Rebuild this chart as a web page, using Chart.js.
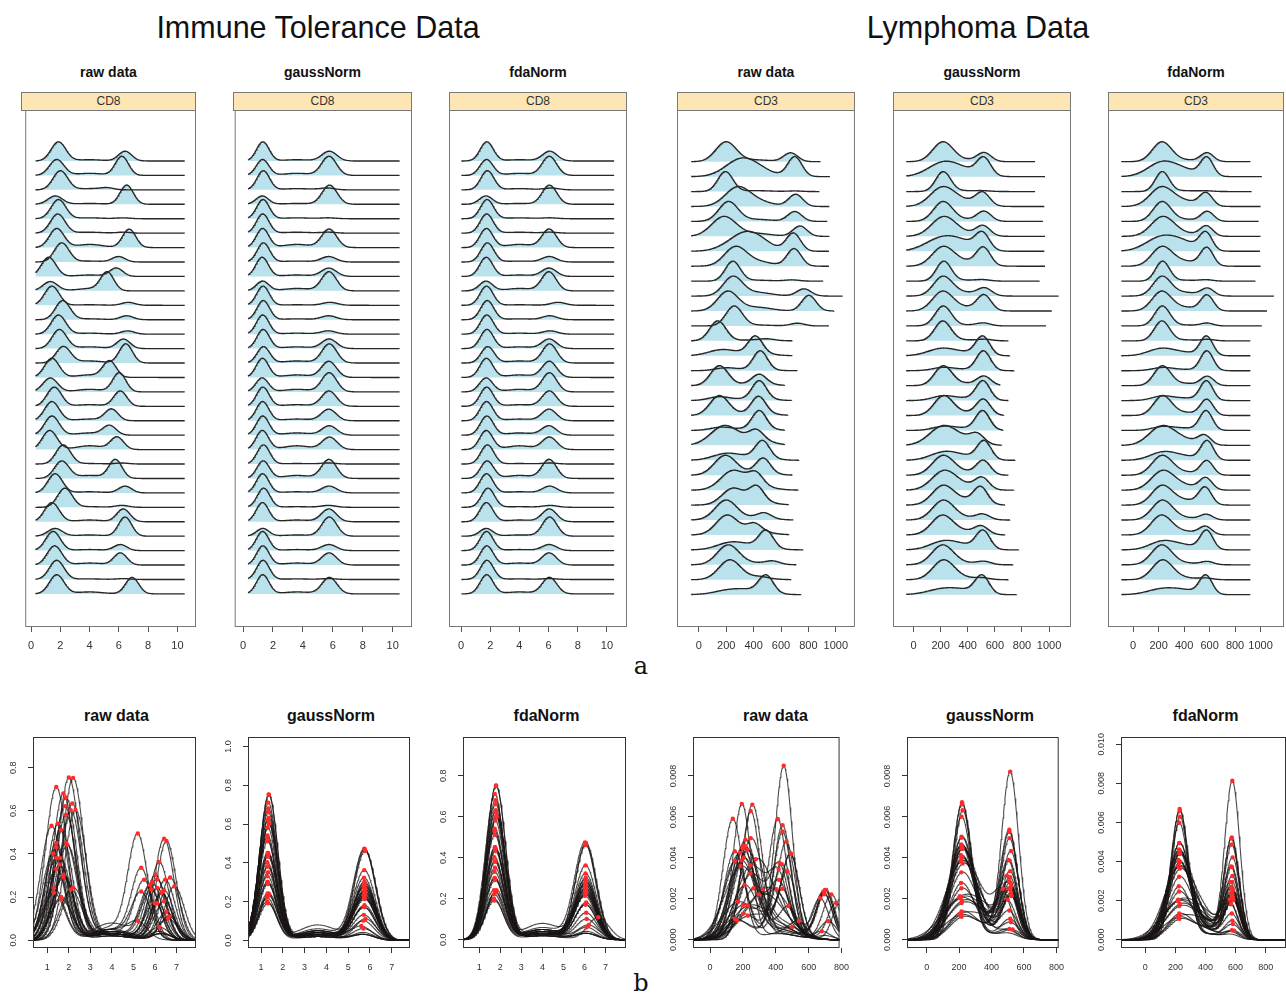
<!DOCTYPE html>
<html>
<head>
<meta charset="utf-8">
<script src="https://cdn.jsdelivr.net/npm/chart.js@4.4.1/dist/chart.umd.min.js"></script>
<style>
  body { margin: 0; background: #fff; }
  #page { position: relative; width: 1286px; height: 1001px; overflow: hidden; font-family: 'Liberation Sans', Arial, sans-serif; color: #111; }
  .txt { position: absolute; white-space: nowrap; transform: translate(-50%, -50%); }
  .head { font-size: 30.5px; }
  .ptitle { font-size: 14px; font-weight: bold; }
  .btitle { font-size: 16px; font-weight: bold; }
  .letter { font-family: 'DejaVu Serif', 'Liberation Serif', serif; font-size: 24px; }
  .strip { position: absolute; top: 92px; height: 19px; box-sizing: border-box; border: 1px solid #7a7a7a; background: #fde5b4; font-size: 12px; line-height: 17px; text-align: center; color: #333; }
  canvas { position: absolute; }
</style>
</head>
<body>
<div id="page">
  <div class="txt head" style="left:318px; top:27px">Immune Tolerance Data</div>
  <div class="txt head" style="left:978px; top:27px">Lymphoma Data</div>
  <div class="txt letter" style="left:641px; top:666px">a</div>
  <div class="txt letter" style="left:641px; top:983px">b</div>
</div>
<script>
// ---- Immune tolerance data (CD8), one entry per sample, top row first ----
const immuneRawLow   = [1.87, 1.75, 2.00, 1.65, 1.87, 1.82, 1.75, 2.09, 1.20, 1.31, 1.42, 2.16, 1.87, 1.93, 2.20, 1.42, 1.31, 1.58, 1.42, 1.42, 1.27, 2.20, 2.09, 1.64, 2.31, 1.42, 1.64, 1.50, 1.60, 1.75, 1.75];
const immuneRawHigh  = [6.42, 6.20, 5.20, 6.53, 6.30, 6.30, 6.70, 5.98, 5.82, 5.20, 6.64, 6.53, 6.60, 6.31, 6.47, 5.36, 6.02, 6.09, 5.49, 5.36, 5.87, 6.20, 5.76, 6.42, 6.20, 6.30, 6.42, 6.10, 6.10, 6.30, 6.90];
const immuneGaussLow = [1.32, 1.30, 1.35, 1.28, 1.33, 1.31, 1.30, 1.36, 1.27, 1.30, 1.33, 1.35, 1.31, 1.34, 1.36, 1.29, 1.27, 1.32, 1.30, 1.31, 1.28, 1.36, 1.34, 1.30, 1.37, 1.29, 1.31, 1.30, 1.32, 1.33, 1.31];
const immuneGaussHigh = [5.76, 5.74, 5.60, 5.78, 5.70, 5.70, 5.75, 5.72, 5.73, 5.74, 5.80, 5.72, 5.70, 5.75, 5.76, 5.73, 5.75, 5.74, 5.72, 5.76, 5.78, 5.70, 5.74, 5.75, 5.70, 5.73, 5.76, 5.74, 5.75, 5.70, 5.77];
const immuneFdaLow   = [1.76, 1.74, 1.80, 1.70, 1.78, 1.75, 1.73, 1.80, 1.72, 1.70, 1.74, 1.79, 1.76, 1.77, 1.82, 1.73, 1.71, 1.75, 1.74, 1.76, 1.72, 1.80, 1.78, 1.74, 1.84, 1.73, 1.72, 1.74, 1.76, 1.77, 1.75];
const immuneFdaHigh  = [6.08, 6.05, 6.20, 6.06, 6.10, 6.10, 6.04, 6.05, 6.03, 6.02, 6.65, 6.08, 6.10, 6.04, 6.07, 6.05, 6.06, 6.05, 6.03, 6.02, 6.06, 6.10, 6.04, 6.08, 6.10, 6.05, 6.07, 6.05, 6.04, 6.10, 6.06];
const immuneLowDensity  = [0.45, 0.30, 0.75, 0.20, 0.66, 0.62, 0.30, 0.60, 0.53, 0.24, 0.71, 0.63, 0.58, 0.44, 0.24, 0.38, 0.22, 0.35, 0.45, 0.43, 0.40, 0.75, 0.23, 0.51, 0.60, 0.33, 0.19, 0.54, 0.38, 0.68, 0.29];
const immuneHighDensity = [0.23, 0.36, 0.07, 0.46, 0.03, 0.03, 0.29, 0.17, 0.23, 0.47, 0.11, 0.13, 0.10, 0.22, 0.28, 0.32, 0.30, 0.28, 0.27, 0.21, 0.26, 0.04, 0.25, 0.18, 0.06, 0.22, 0.47, 0.17, 0.24, 0.03, 0.25];
const immuneMidDensity  = [0.03, 0.04, 0.05, 0.02, 0.03, 0.03, 0.05, 0.03, 0.04, 0.06, 0.02, 0.03, 0.03, 0.04, 0.03, 0.05, 0.04, 0.03, 0.04, 0.05, 0.08, 0.02, 0.04, 0.03, 0.02, 0.03, 0.03, 0.03, 0.04, 0.02, 0.03];

// ---- Lymphoma data (CD3) ----
const lymphRawA   = [198, 295, 193, 278, 215, 182, 320, 264, 247, 247, 210, 257, 138, 170, 200, 150, 150, 150, 164, 186, 200, 192, 246, 246, 198, 205, 230, 213, 225, 230];
const lymphRawB   = [670, 700, 700, 707, 700, 738, 690, 695, 680, 767, 803, 719, 500, 412, 448, 441, 441, 436, 441, 420, 465, 470, 417, 422, 477, 405, 491, 540, 450, 491];
const lymphGaussA = [215, 212, 218, 210, 216, 220, 205, 214, 222, 215, 212, 218, 215, 200, 215, 218, 210, 220, 215, 213, 218, 216, 222, 214, 218, 210, 215, 213, 220, 205];
const lymphGaussB = [520, 518, 515, 510, 520, 512, 508, 515, 510, 525, 520, 515, 530, 510, 515, 520, 512, 515, 510, 470, 520, 515, 505, 495, 510, 500, 512, 520, 510, 505];
const lymphFdaA   = [225, 222, 228, 220, 226, 230, 218, 224, 230, 225, 222, 228, 225, 215, 225, 228, 220, 230, 225, 223, 228, 226, 230, 224, 228, 220, 225, 223, 230, 218];
const lymphFdaB   = [580, 578, 575, 572, 582, 575, 570, 578, 575, 585, 580, 578, 590, 575, 578, 582, 575, 578, 572, 560, 580, 578, 570, 565, 575, 568, 576, 582, 575, 570];
const lymphADensity = [0.0045, 0.0018, 0.0066, 0.0035, 0.0048, 0.0042, 0.0018, 0.0023, 0.0062, 0.0047, 0.0026, 0.0065, 0.0059, 0.0018, 0.0012, 0.0043, 0.0010, 0.0038, 0.0009, 0.0035, 0.0016, 0.0038, 0.0034, 0.0030, 0.0044, 0.0039, 0.0015, 0.0045, 0.0043, 0.0010];
const lymphBDensity = [0.0020, 0.0024, 0.0002, 0.0024, 0.0024, 0.0022, 0.0023, 0.0022, 0.0004, 0.0018, 0.0021, 0.0009, 0.0004, 0.0050, 0.0080, 0.0020, 0.0047, 0.0031, 0.0050, 0.0017, 0.0040, 0.0028, 0.0021, 0.0027, 0.0012, 0.0016, 0.0035, 0.0007, 0.0003, 0.0035];
const lymphMidDensity = [0.0004, 0.0008, 0.0003, 0.0010, 0.0005, 0.0006, 0.0010, 0.0006, 0.0003, 0.0009, 0.0005, 0.0003, 0.0003, 0.0008, 0.0005, 0.0005, 0.0006, 0.0006, 0.0006, 0.0010, 0.0008, 0.0006, 0.0008, 0.0008, 0.0005, 0.0007, 0.0008, 0.0004, 0.0004, 0.0008];
const lymphAWidth = [75, 110, 55, 90, 70, 90, 120, 80, 55, 70, 75, 60, 60, 100, 80, 65, 80, 70, 80, 100, 100, 80, 90, 80, 80, 80, 100, 80, 80, 110];
const lymphRawEnd   = [888, 957, 880, 950, 938, 950, 950, 950, 908, 1050, 985, 950, 683, 683, 720, 625, 677, 652, 625, 625, 731, 683, 727, 654, 690, 660, 762, 712, 674, 745];
const lymphGaussEnd = [897, 970, 897, 965, 955, 970, 965, 970, 930, 1070, 1020, 978, 700, 708, 740, 640, 700, 664, 660, 650, 750, 700, 740, 675, 712, 675, 775, 735, 700, 760];
const lymphFdaEnd   = [920, 1010, 930, 1000, 985, 1000, 995, 1000, 960, 1105, 1050, 1010, 920, 920, 920, 920, 920, 920, 920, 920, 920, 920, 920, 920, 920, 920, 920, 920, 920, 920];

// ---- tick labels ----
const immuneRidgeTicks = [0, 2, 4, 6, 8, 10];
const lymphRidgeTicks = [0, 200, 400, 600, 800, 1000];
const immuneLineTicks = [1, 2, 3, 4, 5, 6, 7];
const lymphLineTicks = [0, 200, 400, 600, 800];
const immuneRawYTicks = [0, 0.2, 0.4, 0.6, 0.8];
const immuneGaussYTicks = [0, 0.2, 0.4, 0.6, 0.8, 1.0];
const immuneFdaYTicks = [0, 0.2, 0.4, 0.6, 0.8];
const lymphYTicks = [0, 0.002, 0.004, 0.006, 0.008];
const lymphFdaYTicks = [0, 0.002, 0.004, 0.006, 0.008, 0.010];

Chart.defaults.font.family = "'Liberation Sans', Arial, sans-serif";
Chart.defaults.color = '#333';

const page = document.getElementById('page');

function addText(cls, text, x, y) {
  const d = document.createElement('div');
  d.className = 'txt ' + cls;
  d.textContent = text;
  d.style.left = x + 'px';
  d.style.top = y + 'px';
  page.appendChild(d);
}

function addCanvas(left, top, w, h) {
  const c = document.createElement('canvas');
  c.width = w;
  c.height = h;
  c.style.left = left + 'px';
  c.style.top = top + 'px';
  page.appendChild(c);
  return c;
}

function density(x, comps) {
  let s = 0;
  for (const [m, h, sd] of comps) s += h * Math.exp(-0.5 * ((x - m) / sd) ** 2);
  return s;
}

function steps(from, to, n) {
  const xs = [];
  for (let k = 0; k <= n; k++) xs.push(from + (to - from) * k / n);
  return xs;
}

function immuneRows(low, high, widths, midAt) {
  return low.map((m, i) => [
    [m, immuneLowDensity[i], widths[0]],
    [high[i], immuneHighDensity[i], widths[1]],
    [midAt, immuneMidDensity[i], 0.9]
  ]);
}

function lymphRows(a, b, bWidth, midAt) {
  return a.map((m, i) => [
    [m, lymphADensity[i], lymphAWidth[i]],
    [b[i], lymphBDensity[i], bWidth],
    [midAt, lymphMidDensity[i], 110]
  ]);
}

const immuneRaw = immuneRows(immuneRawLow, immuneRawHigh, [0.5, 0.45], 4.0);
const immuneGauss = immuneRows(immuneGaussLow, immuneGaussHigh, [0.42, 0.5], 3.6);
const immuneFda = immuneRows(immuneFdaLow, immuneFdaHigh, [0.45, 0.5], 4.0);
const lymphRaw = lymphRows(lymphRawA, lymphRawB, 52, 420);
const lymphGauss = lymphRows(lymphGaussA, lymphGaussB, 52, 370);
const lymphFda = lymphRows(lymphFdaA, lymphFdaB, 50, 400);

// box frame drawn around the plotting region
const frame = {
  id: 'frame',
  afterDraw(chart, args, opts) {
    const { ctx, chartArea: a } = chart;
    ctx.save();
    ctx.strokeStyle = opts.color;
    ctx.lineWidth = 1;
    ctx.strokeRect(a.left + 0.5, a.top + 0.5, a.width - 1, a.height - 1);
    ctx.restore();
  }
};

// R-style rotated y tick labels
function rotatedLabels(ticks, digits) {
  return {
    id: 'rotatedLabels',
    afterDraw(chart) {
      const { ctx, chartArea: a, scales: { y } } = chart;
      ctx.save();
      ctx.fillStyle = '#333';
      ctx.font = "9px 'Liberation Sans', Arial, sans-serif";
      ctx.textAlign = 'center';
      ctx.textBaseline = 'middle';
      ticks.forEach(v => {
        ctx.save();
        ctx.translate(a.left - 19, y.getPixelForValue(v));
        ctx.rotate(-Math.PI / 2);
        ctx.fillText(v.toFixed(digits), 0, 0);
        ctx.restore();
      });
      ctx.restore();
    }
  };
}

// ---- top row: stacked density (ridge) panels ----
const AREA_TOP = 110, AREA_H = 517;

function drawRidge(p) {
  addText('ptitle', p.title, p.left + p.width / 2, 72);
  const strip = document.createElement('div');
  strip.className = 'strip';
  strip.textContent = p.strip;
  strip.style.left = p.left + 'px';
  strip.style.width = p.width + 'px';
  page.appendChild(strip);

  const n = p.rows.length;
  const yMax = n - 1 + (p.firstBase - AREA_TOP) / p.spacing;
  const yMin = yMax - AREA_H / p.spacing;
  const datasets = [];
  for (let i = n - 1; i >= 0; i--) {
    const base = n - 1 - i;
    const to = p.ends ? p.ends[i] : p.to;
    const xs = steps(p.from, to, 240);
    const ys = xs.map(x => density(x, p.rows[i]));
    const top = Math.max(...ys);
    datasets.push({
      data: xs.map((x, k) => ({ x, y: base + ys[k] / top * p.peak })),
      fill: { value: base },
      backgroundColor: '#b9e2ed',
      borderColor: '#262626',
      borderWidth: 1.35,
      pointRadius: 0,
      tension: 0
    });
  }

  const canvas = addCanvas(p.left, AREA_TOP, p.width, AREA_H + 30);
  new Chart(canvas, {
    type: 'line',
    data: { datasets },
    options: {
      responsive: false,
      animation: false,
      events: [],
      layout: { padding: 0 },
      plugins: {
        legend: { display: false },
        tooltip: { enabled: false },
        // all fills first, then every outline on top
        filler: { drawTime: 'beforeDatasetsDraw' },
        frame: { color: '#777' }
      },
      scales: {
        x: {
          type: 'linear', min: p.xMin, max: p.xMax,
          afterBuildTicks: s => { s.ticks = p.ticks.map(v => ({ value: v })); },
          afterFit: s => { s.height = 30; },
          grid: { drawOnChartArea: false, tickLength: 5, color: '#555' },
          border: { display: false },
          ticks: { font: { size: 11 }, padding: 7, maxRotation: 0, autoSkip: false, callback: v => String(v) }
        },
        y: { type: 'linear', display: false, min: yMin, max: yMax }
      }
    },
    plugins: [frame]
  });
}

const immuneRidge = { spacing: 14.43, firstBase: 161, peak: 1.33, ticks: immuneRidgeTicks, strip: 'CD8' };
const lymphRidge = { spacing: 14.93, firstBase: 161.7, peak: 1.34, ticks: lymphRidgeTicks, strip: 'CD3' };

drawRidge({ ...immuneRidge, title: 'raw data', left: 21, width: 175, xMin: -0.4, xMax: 11.27, rows: immuneRaw, from: 0.3, to: 10.5 });
drawRidge({ ...immuneRidge, title: 'gaussNorm', left: 233, width: 179, xMin: -0.56, xMax: 11.29, rows: immuneGauss, from: 0.33, to: 10.46 });
drawRidge({ ...immuneRidge, title: 'fdaNorm', left: 449, width: 178, xMin: -0.83, xMax: 11.38, rows: immuneFda, from: 0.02, to: 10.5 });
drawRidge({ ...lymphRidge, title: 'raw data', left: 677, width: 178, xMin: -160, xMax: 1140, rows: lymphRaw, from: -56, ends: lymphRawEnd });
drawRidge({ ...lymphRidge, title: 'gaussNorm', left: 893, width: 178, xMin: -152, xMax: 1162, rows: lymphGauss, from: -54, ends: lymphGaussEnd });
drawRidge({ ...lymphRidge, title: 'fdaNorm', left: 1108, width: 176, xMin: -197, xMax: 1184, rows: lymphFda, from: -92, ends: lymphFdaEnd });

// ---- bottom row: overlaid density curves with landmark points ----
const BOX_TOP = 733, BOX_H = 215, AXIS_W = 32, AXIS_H = 34;

function drawLines(p) {
  addText('btitle', p.title, p.left + p.width / 2, 716);
  const datasets = [];
  const dots = [];
  p.rows.forEach(comps => {
    const xs = steps(p.xMin, p.xMax, 240);
    datasets.push({
      data: xs.map(x => ({ x, y: density(x, comps) })),
      borderColor: 'rgba(25,20,20,0.78)',
      borderWidth: 1.1,
      pointRadius: 0,
      fill: false,
      tension: 0
    });
    comps.slice(0, 2).forEach(([m, h]) => {
      if (h >= p.dotMin) dots.push({ x: m, y: density(m, comps) });
    });
  });
  datasets.unshift({
    data: dots, showLine: false, pointRadius: 2.2,
    pointBackgroundColor: '#ff2a2a', pointBorderWidth: 0
  });

  const canvas = addCanvas(p.left - AXIS_W, BOX_TOP, p.width + AXIS_W, BOX_H + AXIS_H);
  new Chart(canvas, {
    type: 'line',
    data: { datasets },
    options: {
      responsive: false,
      animation: false,
      events: [],
      layout: { padding: 0 },
      plugins: { legend: { display: false }, tooltip: { enabled: false }, frame: { color: '#333' } },
      scales: {
        x: {
          type: 'linear', min: p.xMin, max: p.xMax,
          afterBuildTicks: s => { s.ticks = p.xTicks.map(v => ({ value: v })); },
          afterFit: s => { s.height = AXIS_H; },
          grid: { drawOnChartArea: false, tickLength: 5, color: '#333' },
          border: { display: false },
          ticks: { font: { size: 9 }, padding: 9, maxRotation: 0, autoSkip: false, callback: v => String(v) }
        },
        y: {
          type: 'linear', min: p.yMin, max: p.yMax,
          afterBuildTicks: s => { s.ticks = p.yTicks.map(v => ({ value: v })); },
          afterFit: s => { s.width = AXIS_W; },
          grid: { drawOnChartArea: false, tickLength: 5, color: '#333' },
          border: { display: false },
          ticks: { display: false }
        }
      }
    },
    plugins: [frame, rotatedLabels(p.yTicks, p.digits)]
  });
}

drawLines({ title: 'raw data', left: 33, width: 167, xMin: 0.34, xMax: 7.9, yMin: -0.036, yMax: 0.942, rows: immuneRaw, xTicks: immuneLineTicks, yTicks: immuneRawYTicks, digits: 1, dotMin: 0.05 });
drawLines({ title: 'gaussNorm', left: 248, width: 166, xMin: 0.4, xMax: 7.84, yMin: -0.039, yMax: 1.049, rows: immuneGauss, xTicks: immuneLineTicks, yTicks: immuneGaussYTicks, digits: 1, dotMin: 0.05 });
drawLines({ title: 'fdaNorm', left: 463, width: 167, xMin: 0.23, xMax: 7.97, yMin: -0.04, yMax: 0.989, rows: immuneFda, xTicks: immuneLineTicks, yTicks: immuneFdaYTicks, digits: 1, dotMin: 0.05 });
drawLines({ title: 'raw data', left: 693, width: 165, xMin: -104, xMax: 788, yMin: -0.0004, yMax: 0.0099, rows: lymphRaw, xTicks: lymphLineTicks, yTicks: lymphYTicks, digits: 3, dotMin: 0.0004 });
drawLines({ title: 'gaussNorm', left: 907, width: 166, xMin: -121, xMax: 814, yMin: -0.0004, yMax: 0.0099, rows: lymphGauss, xTicks: lymphLineTicks, yTicks: lymphYTicks, digits: 3, dotMin: 0.0004 });
drawLines({ title: 'fdaNorm', left: 1121, width: 169, xMin: -162, xMax: 935, yMin: -0.00042, yMax: 0.01037, rows: lymphFda, xTicks: lymphLineTicks, yTicks: lymphFdaYTicks, digits: 3, dotMin: 0.0004 });
</script>
</body>
</html>
